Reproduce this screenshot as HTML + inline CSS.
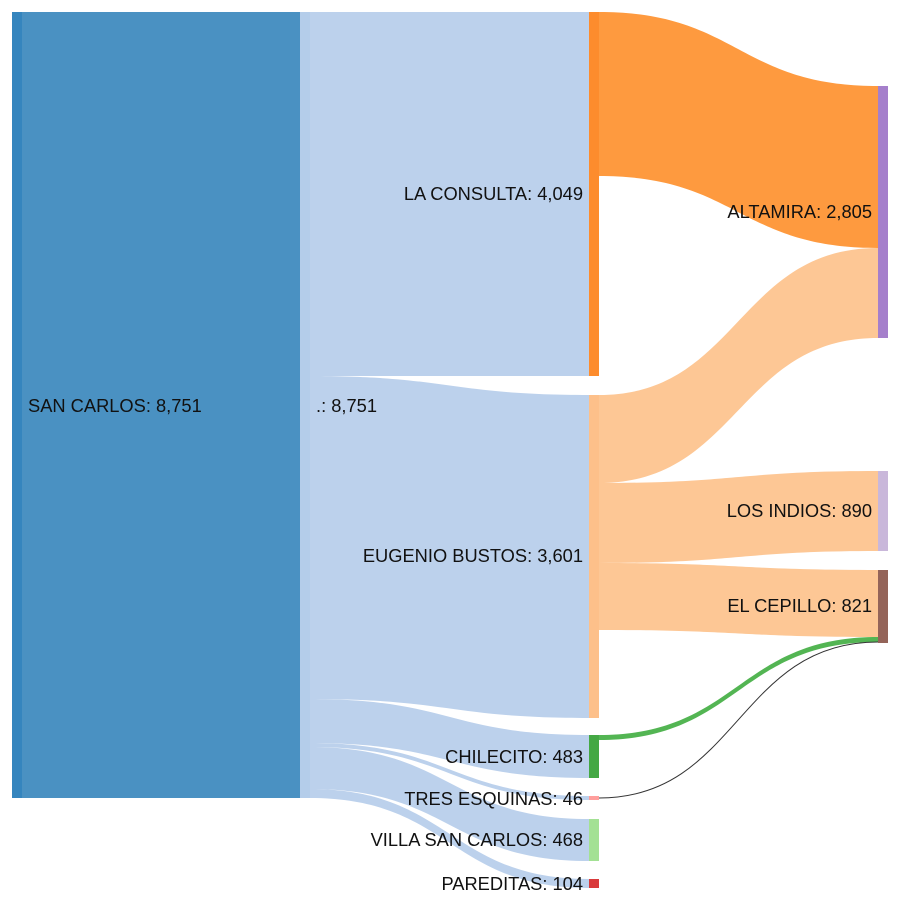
<!DOCTYPE html>
<html><head><meta charset="utf-8"><style>
html,body{margin:0;padding:0;background:#fff;}
text{font-family:"Liberation Sans",Arial,sans-serif;font-size:18.3px;fill:#111;}
</style></head><body>
<svg width="900" height="900" xmlns="http://www.w3.org/2000/svg">
<rect x="22" y="12" width="278" height="786" fill="#4a91c2"/>
<g fill="#bcd1ec">
<path d="M310,12 C450,12 450,12 589,12 L589,376 C450,376 450,376 310,376Z"/>
<path d="M310,376 C450,376 450,395 589,395 L589,718 C450,718 450,699 310,699Z"/>
<path d="M310,699 C450,699 450,735 589,735 L589,778 C450,778 450,743 310,743Z"/>
<path d="M310,743 C450,743 450,796 589,796 L589,800 C450,800 450,747 310,747Z"/>
<path d="M310,747 C450,747 450,819 589,819 L589,861 C450,861 450,789 310,789Z"/>
<path d="M310,789 C450,789 450,879 589,879 L589,888 C450,888 450,798 310,798Z"/>
</g>
<path d="M599,12 C738,12 738,86 878,86 L878,248 C738,248 738,176 599,176Z" fill="#fe9a3f"/>
<path d="M599,395 C738,395 738,248 878,248 L878,338 C738,338 738,483 599,483Z" fill="#fdc795"/>
<path d="M599,483 C738,483 738,471 878,471 L878,551 C738,551 738,563 599,563Z" fill="#fdc795"/>
<path d="M599,563 C738,563 738,570 878,570 L878,637 C738,637 738,630 599,630Z" fill="#fdc795"/>
<path d="M599,735 C738,735 738,637 878,637 L878,642 C738,642 738,740 599,740Z" fill="#53b553"/>
<path d="M599,798 C738,798 738,642 878,642" fill="none" stroke="#333" stroke-width="1"/>
<rect x="12" y="12" width="10" height="786" fill="#3585be"/>
<rect x="300" y="12" width="10" height="786" fill="#b4cdea"/>
<rect x="589" y="12" width="10" height="364" fill="#fd8c2d"/>
<rect x="589" y="395" width="10" height="323" fill="#fdc08a"/>
<rect x="589" y="735" width="10" height="43" fill="#44a844"/>
<rect x="589" y="796" width="10" height="4" fill="#ff9e9c"/>
<rect x="589" y="819" width="10" height="42" fill="#a3e194"/>
<rect x="589" y="879" width="10" height="9" fill="#d93a3b"/>
<rect x="878" y="86" width="10" height="252" fill="#a57fcb"/>
<rect x="878" y="471" width="10" height="80" fill="#c9b7da"/>
<rect x="878" y="570" width="10" height="73" fill="#946459"/>
<text x="28" y="412">SAN CARLOS: 8,751</text>
<text x="316" y="412">.: 8,751</text>
<g text-anchor="end">
<text x="583" y="200">LA CONSULTA: 4,049</text>
<text x="583" y="562">EUGENIO BUSTOS: 3,601</text>
<text x="583" y="763">CHILECITO: 483</text>
<text x="583" y="805">TRES ESQUINAS: 46</text>
<text x="583" y="846">VILLA SAN CARLOS: 468</text>
<text x="583" y="890">PAREDITAS: 104</text>
<text x="872" y="218">ALTAMIRA: 2,805</text>
<text x="872" y="517">LOS INDIOS: 890</text>
<text x="872" y="612">EL CEPILLO: 821</text>
</g>
</svg>
</body></html>
